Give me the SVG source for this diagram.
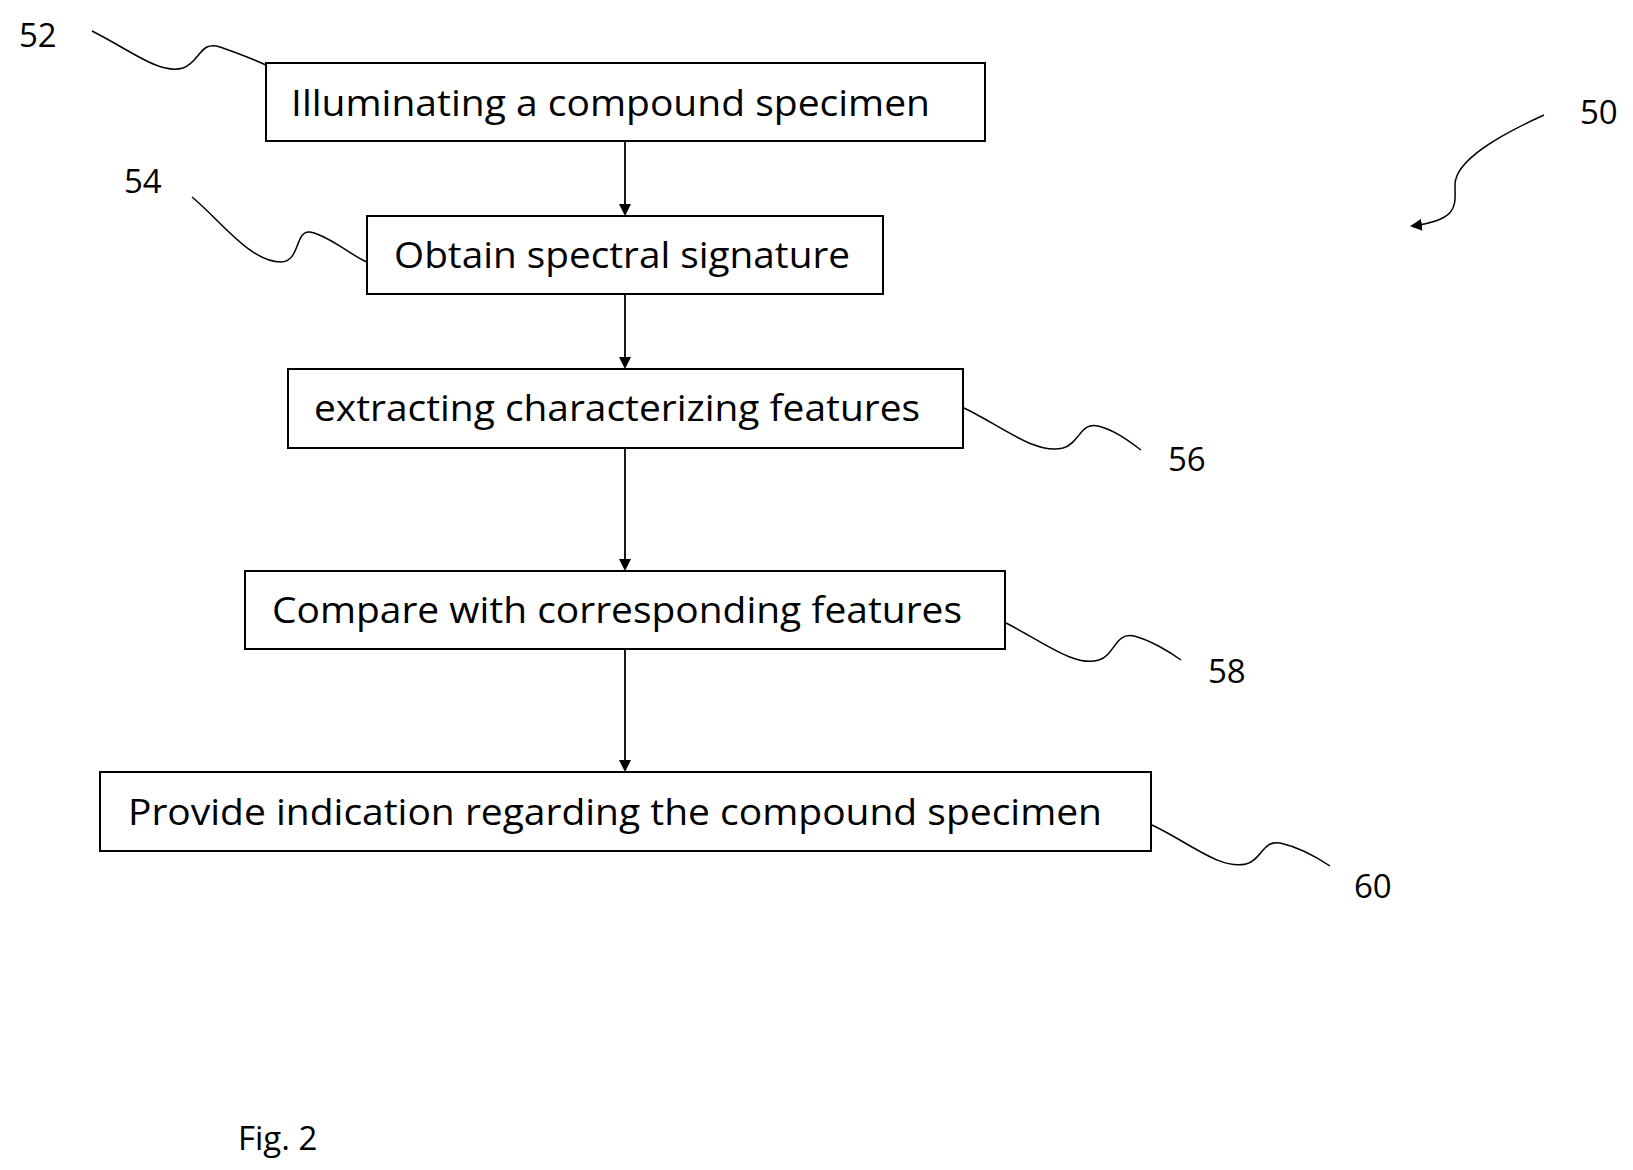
<svg xmlns="http://www.w3.org/2000/svg" width="1633" height="1170" viewBox="0 0 1633 1170">
<style>
.b{fill:#fff;stroke:#000;stroke-width:2}
.t{font-family:"Open Sans","Liberation Sans",sans-serif;font-size:37px;fill:#000}
.l{font-family:"Open Sans","Liberation Sans",sans-serif;font-size:33px;fill:#000}
.c{fill:none;stroke:#000;stroke-width:1.8}
.s{fill:none;stroke:#000;stroke-width:1.5}
</style>
<defs><marker id="a" markerWidth="12" markerHeight="12" refX="10" refY="6" orient="auto" markerUnits="userSpaceOnUse"><path d="M0,0 L12,6 L0,12 Z"/></marker></defs>
<rect width="1633" height="1170" fill="#fff"/>
<g id="connectors">
<line class="c" x1="625" y1="141" x2="625" y2="214" marker-end="url(#a)"/>
<line class="c" x1="625" y1="294" x2="625" y2="367" marker-end="url(#a)"/>
<line class="c" x1="625" y1="448" x2="625" y2="569" marker-end="url(#a)"/>
<line class="c" x1="625" y1="649" x2="625" y2="770" marker-end="url(#a)"/>
<path class="s" d="M92,31 C130,50 160,75 183,68 C200,62 200,40 220,47 C240,54 255,60 266,65"/>
<path class="s" d="M192,197 C220,220 250,262 281,262 C300,262 295,230 310,232 C330,236 355,258 367,262"/>
<path class="s" d="M964,408 C1000,425 1035,455 1063,448 C1080,443 1080,422 1098,426 C1115,430 1130,442 1141,450"/>
<path class="s" d="M1006,623 C1040,640 1075,668 1099,660 C1115,655 1115,632 1134,636 C1150,640 1170,652 1181,660"/>
<path class="s" d="M1152,825 C1190,843 1220,870 1246,864 C1262,860 1262,840 1280,843 C1298,847 1318,858 1330,866"/>
<path class="s" d="M1544,115 C1500,135 1455,160 1455,185 C1455,205 1460,220 1412,226" marker-end="url(#a)"/>
</g>
<g id="n52"><rect class="b" x="266" y="63" width="719" height="78"/><text class="t" x="291" y="116" textLength="639" lengthAdjust="spacingAndGlyphs">Illuminating a compound specimen</text></g>
<g id="n54"><rect class="b" x="367" y="216" width="516" height="78"/><text class="t" x="394" y="268" textLength="456" lengthAdjust="spacingAndGlyphs">Obtain spectral signature</text></g>
<g id="n56"><rect class="b" x="288" y="369" width="675" height="79"/><text class="t" x="314" y="421" textLength="606" lengthAdjust="spacingAndGlyphs">extracting characterizing features</text></g>
<g id="n58"><rect class="b" x="245" y="571" width="760" height="78"/><text class="t" x="272" y="623" textLength="690" lengthAdjust="spacingAndGlyphs">Compare with corresponding features</text></g>
<g id="n60"><rect class="b" x="100" y="772" width="1051" height="79"/><text class="t" x="128" y="825" textLength="974" lengthAdjust="spacingAndGlyphs">Provide indication regarding the compound specimen</text></g>
<g id="labels">
<text class="l" x="19" y="47">52</text>
<text class="l" x="124" y="193">54</text>
<text class="l" x="1168" y="471">56</text>
<text class="l" x="1208" y="683">58</text>
<text class="l" x="1354" y="898">60</text>
<text class="l" x="1580" y="124">50</text>
<text class="l" x="238" y="1150">Fig. 2</text>
</g>
</svg>
